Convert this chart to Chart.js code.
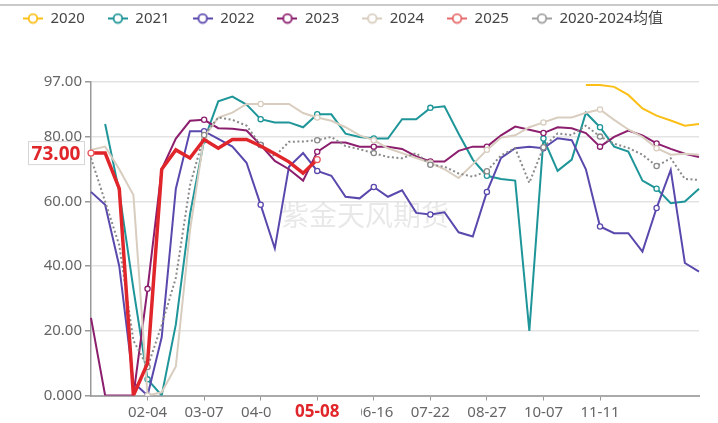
<!DOCTYPE html>
<html>
<head>
<meta charset="utf-8">
<script src="https://cdn.jsdelivr.net/npm/chart.js@4.4.1/dist/chart.umd.min.js"></script>
<style>
  html, body { margin: 0; padding: 0; background: #fff; }
  #wrap { position: relative; width: 718px; height: 423px; }
  #topline { position: absolute; left: 0; top: 4px; width: 718px; height: 2px; background: #c9c9c9; }
  canvas { display: block; }
</style>
</head>
<body>
<div id="wrap">
  <canvas id="chart" width="718" height="423"></canvas>
  <div id="topline"></div>
</div>
<script>
// weekly categories (month-day)
const categories = ['01-07', '01-14', '01-21', '01-28', '02-04', '02-14', '02-21', '02-28', '03-07', '03-14',
  '03-21', '03-28', '04-04', '04-11', '04-18', '04-25', '05-08', '05-16', '05-23', '06-06',
  '06-16', '06-20', '07-04', '07-11', '07-22', '07-29', '08-08', '08-15', '08-27', '09-05',
  '09-12', '09-26', '10-07', '10-17', '10-24', '10-31', '11-11', '11-18', '11-25', '12-02',
  '12-09', '12-16', '12-23', '12-30'];

const xTickIndex = [4, 8, 12, 16, 20, 24, 28, 32, 36];
const highlightLabel = '05-08';
const yTicks = [0, 20, 40, 60, 80, 97];
const yTickLabels = ['0.000', '20.00', '40.00', '60.00', '80.00', '97.00'];

const s2020 = [null, null, null, null, null, null, null, null, null, null,
  null, null, null, null, null, null, null, null, null, null,
  null, null, null, null, null, null, null, null, null, null,
  null, null, null, null, null, 96.1, 96.1, 95.5, 93, 88.8,
  86.6, 85.1, 83.5, 84];
const s2021 = [null, 84, 63, 33, 5, 0, 22, 56, 79, 91,
  92.5, 90, 85.5, 84.5, 84.5, 83, 87, 87, 81, 80,
  79.5, 79.5, 85.5, 85.5, 89, 89.5, 81, 73, 68, 67,
  66.5, 20, 79.5, 69.5, 73, 87.5, 83, 77, 75.5, 66.5,
  64, 59.5, 60, 64];
const s2022 = [63, 59, 40, 4, 0, 18, 64, 81.8, 81.8, 79.4,
  77, 72, 59, 45.5, 70.8, 75, 69.5, 68, 61.5, 61,
  64.5, 61.5, 63.5, 56.5, 56, 56.7, 50.5, 49.2, 63, 73.5,
  76.5, 77, 76.5, 79.6, 79, 70, 52.3, 50.2, 50.2, 44.5,
  58, 69.8, 41, 38.3];
const s2023 = [24, 0, 0, 0, 33, 70, 79.5, 85, 85.3, 82.7,
  82.5, 82, 77.5, 72.6, 70, 66.5, 75.4, 78.3, 78.3, 77,
  77, 77, 76.3, 74, 72.4, 72.4, 75.7, 77, 77, 80.5,
  83.2, 82.2, 81.2, 83, 82.7, 81.2, 77, 80, 82, 80.5,
  78, 76.3, 74.8, 73.8];
const s2024 = [76, 77, 70, 62, 0, 1, 9, 51, 80, 86,
  87.5, 90.2, 90.2, 90.2, 90.2, 87.4, 86, 85, 83, 80.5,
  79, 76.5, 75, 73.5, 72, 70, 67.3, 71.5, 76, 79.8,
  80.5, 83, 84.5, 86, 86, 87.5, 88.5, 85.3, 82.3, 80,
  76.5, 74.5, 74.8, 74.5];
const s2025 = [75, 75, 64, 0, 10, 70, 76, 73.5, 79.2, 76.5,
  79.2, 79.2, 77.2, 74.8, 72.3, 68.8, 73, null, null, null,
  null, null, null, null, null, null, null, null, null, null,
  null, null, null, null, null, null, null, null, null, null,
  null, null, null, null];
const sAvg = [73.5, 60, 46.5, 17, 8.8, 21.8, 36.4, 65, 80.6, 86,
  85.3, 83.5, 77.5, 74, 78.5, 78.6, 79, 80, 77.2, 76.2,
  75, 73.8, 73.4, 75, 71.4, 70.8, 68.7, 67.7, 69.4, 74.3,
  76.5, 65.8, 76.8, 81.1, 80.6, 83.5, 80.1, 77.9, 76.6, 74.5,
  71, 73.4, 67, 66.7];

const FONT = "'Noto Sans', 'Noto Sans CJK SC', sans-serif";
const RED = '#e0262b';

// legend icon: short line with hollow circle
function legendIcon(color) {
  const c = document.createElement('canvas');
  c.width = 20; c.height = 12;
  const g = c.getContext('2d');
  g.strokeStyle = color;
  g.lineWidth = 2;
  g.beginPath(); g.moveTo(0, 6); g.lineTo(20, 6); g.stroke();
  g.beginPath(); g.arc(10, 6, 4.3, 0, Math.PI * 2);
  g.fillStyle = '#fff'; g.fill();
  g.lineWidth = 1.8; g.stroke();
  return c;
}

// hollow symbols every 4th week (not on the first week)
const everyFourth = (ctx) => (ctx.dataIndex > 0 && ctx.dataIndex % 4 === 0) ? 2.6 : 0;
// 2025 only marks its first and latest week
const endsOnly = (ctx) => {
  const lastIdx = s2025.filter(v => v !== null).length - 1;
  return (ctx.dataIndex === 0 || ctx.dataIndex === lastIdx) ? 3 : 0;
};

function series(label, data, color, width, order, extra) {
  return Object.assign({
    label: label,
    data: data,
    borderColor: color,
    backgroundColor: color,
    borderWidth: width,
    tension: 0,
    fill: false,
    order: order,
    pointRadius: everyFourth,
    pointBackgroundColor: '#fff',
    pointBorderColor: color,
    pointBorderWidth: 1.3,
    legendColor: color
  }, extra || {});
}

const datasets = [
  series('2020', s2020, '#fcbf17', 2, 7, { pointRadius: 0 }),
  series('2021', s2021, '#1e9598', 2, 6),
  series('2022', s2022, '#5a48ad', 2, 5),
  series('2023', s2023, '#8c1e6e', 2, 4),
  series('2024', s2024, '#d8cdbf', 2, 3),
  series('2025', s2025, RED, 3.5, 0, { legendColor: '#e76a6a', pointRadius: endsOnly, pointBorderColor: '#e8585c' }),
  series('2020-2024均值', sAvg, '#8a8a8a', 2, 1, { borderDash: [2, 2.5], legendColor: '#a0a0a0' })
];

const decor = {
  id: 'decor',
  beforeInit(chart) {
    const lg = chart.legend;
    const fit = lg.fit;
    lg.fit = function () {
      fit.call(this);
      this.height = 94;
    };
  },
  beforeDatasetsDraw(chart) {
    const ctx = chart.ctx;
    ctx.save();
    ctx.font = "28px 'Noto Sans CJK SC'";
    ctx.fillStyle = 'rgba(0,0,0,0.09)';
    ctx.textAlign = 'center';
    ctx.textBaseline = 'middle';
    ctx.fillText('紫金天风期货', 365, 215);
    ctx.restore();
  },
  afterDraw(chart) {
    const ctx = chart.ctx;
    const xs = chart.scales.x, ys = chart.scales.y;
    // highlighted category label
    const hx = xs.getPixelForValue(categories.indexOf(highlightLabel));
    ctx.save();
    ctx.fillStyle = '#fff';
    ctx.fillRect(hx - 46.5, 401, 90.5, 22);
    ctx.font = 'bold 17px ' + FONT;
    ctx.fillStyle = RED;
    ctx.textAlign = 'center';
    ctx.textBaseline = 'middle';
    ctx.fillText(highlightLabel, hx, 412);
    // latest 2025 value tag on the y axis
    const last = s2025.filter(v => v !== null).pop();
    const ty = ys.getPixelForValue(s2025[0]);
    ctx.fillStyle = '#fff';
    ctx.strokeStyle = '#d6d6d6';
    ctx.lineWidth = 1;
    ctx.fillRect(28, ty - 11.5, 56, 23);
    ctx.strokeRect(28.5, ty - 11.5, 56, 23);
    ctx.font = 'bold 19px ' + FONT;
    ctx.fillStyle = RED;
    ctx.fillText(last.toFixed(2), 56, ty + 1);
    ctx.restore();
  }
};

new Chart(document.getElementById('chart'), {
  type: 'line',
  data: { labels: categories, datasets: datasets },
  options: {
    responsive: false,
    animation: false,
    events: [],
    layout: { padding: { top: -12, left: 0, right: 19, bottom: 0 } },
    plugins: {
      tooltip: { enabled: false },
      legend: {
        position: 'top',
        align: 'start',
        labels: {
          usePointStyle: true,
          pointStyleWidth: 20,
          padding: 23,
          color: '#444',
          font: { size: 15, family: FONT },
          generateLabels: (chart) => chart.data.datasets.map((ds, i) => ({
            text: ds.label,
            pointStyle: legendIcon(ds.legendColor),
            fillStyle: ds.legendColor,
            strokeStyle: ds.legendColor,
            lineWidth: 0,
            hidden: false,
            datasetIndex: i,
            fontColor: '#444'
          }))
        }
      }
    },
    scales: {
      x: {
        type: 'category',
        offset: false,
        grid: { display: true, drawOnChartArea: false, drawTicks: true, tickLength: 5, tickColor: '#999', offset: false },
        border: { color: '#aaa', width: 2 },
        ticks: { autoSkip: false, maxRotation: 0, color: '#666', padding: 3, font: { size: 15, family: FONT } },
        afterBuildTicks: (s) => { s.ticks = xTickIndex.map(v => ({ value: v })); },
        afterFit: (s) => { s.height = 27.5; }
      },
      y: {
        min: 0,
        max: 97,
        grid: { color: '#e3e3e3', lineWidth: 1.5, tickLength: 6, tickColor: '#999' },
        border: { color: '#999', width: 1.5 },
        ticks: {
          color: '#666',
          padding: 3,
          font: { size: 15, family: FONT },
          callback: (v) => yTickLabels[yTicks.indexOf(v)]
        },
        afterBuildTicks: (s) => { s.ticks = yTicks.map(v => ({ value: v })); },
        afterFit: (s) => { s.width = 91; }
      }
    }
  },
  plugins: [decor]
});
</script>
</body>
</html>
